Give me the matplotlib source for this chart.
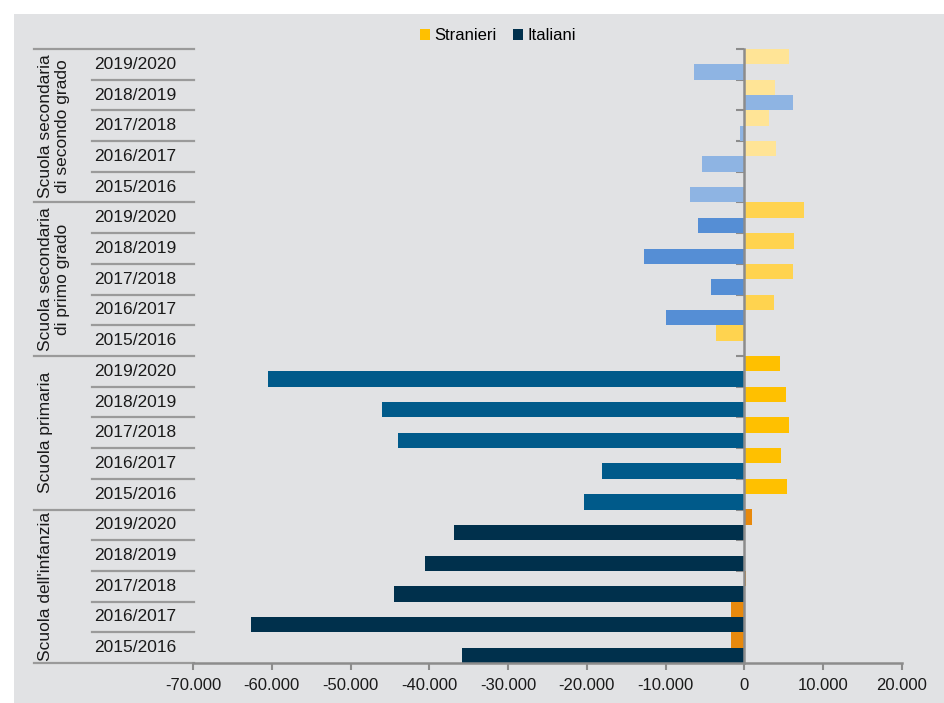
import matplotlib
matplotlib.use("Agg")
import matplotlib.pyplot as plt
from matplotlib.patches import Patch
from matplotlib.lines import Line2D

plt.rcParams['font.family'] = ['Liberation Sans', 'DejaVu Sans']

# ---- data (years ordered bottom-to-top within each group) ----
years = ['2015/2016', '2016/2017', '2017/2018', '2018/2019', '2019/2020']
groups = ["Scuola dell'infanzia", "Scuola primaria",
          "Scuola secondaria\ndi primo grado", "Scuola secondaria\ndi secondo grado"]

stranieri_infanzia = [-1650, -1650, 200, 0, 1000]
italiani_infanzia = [-35800, -62600, -44500, -40600, -36900]
stranieri_primaria = [5400, 4700, 5600, 5300, 4450]
italiani_primaria = [-20400, -18100, -44000, -46000, -60500]
stranieri_primo = [-3550, 3800, 6200, 6350, 7600]
italiani_primo = [0, -10000, -4300, -12800, -5850]
stranieri_secondo = [0, 4050, 3150, 3900, 5600]
italiani_secondo = [-6850, -5450, -600, 6150, -6450]

x_ticks = [-70000, -60000, -50000, -40000, -30000, -20000, -10000, 0, 10000, 20000]

stranieri = [stranieri_infanzia, stranieri_primaria, stranieri_primo, stranieri_secondo]
italiani = [italiani_infanzia, italiani_primaria, italiani_primo, italiani_secondo]
col_s = ['#E8890C', '#FFC000', '#FFD34F', '#FFE496']
col_i = ['#00304C', '#005A8A', '#558ED5', '#8EB4E3']

W, H = 945, 703
fig = plt.figure(figsize=(W / 100, H / 100), dpi=100)
fig.patch.set_facecolor('white')
bg = fig.add_axes([14 / W, 0, 1 - 14 / W, 1 - 14 / H], zorder=-5)
bg.set_facecolor('#E1E2E4')
bg.set_xticks([]); bg.set_yticks([])
for s in bg.spines.values():
    s.set_visible(False)

left_px, right_px, top_px, bot_px = 193, 902, 49, 663
ax = fig.add_axes([left_px / W, 1 - bot_px / H, (right_px - left_px) / W, (bot_px - top_px) / H],
                  zorder=1)
ax.set_facecolor('none')

k = 0
for g in range(4):
    for j in range(5):
        ax.barh(k + 0.25, stranieri[g][j], height=0.5, color=col_s[g], zorder=2)
        ax.barh(k - 0.25, italiani[g][j], height=0.5, color=col_i[g], zorder=2)
        k += 1

n = 20
ax.set_ylim(-0.5, n - 0.5)
ax.set_xlim(-70000, 20000)

axis_col = '#8C8C8C'
for s in ['top', 'right']:
    ax.spines[s].set_visible(False)
ax.spines['left'].set_position(('data', 0))
ax.spines['left'].set_color(axis_col)
ax.spines['left'].set_linewidth(1.8)
ax.spines['bottom'].set_color(axis_col)
ax.spines['bottom'].set_linewidth(1.8)
ax.spines['left'].set_zorder(3)

ax.set_yticks([i - 0.5 for i in range(n + 1)])
ax.set_yticklabels([])
ax.tick_params(axis='y', direction='out', length=6, width=1.5, color=axis_col)

ax.set_xticks(x_ticks)
ax.set_xticklabels([('%d' % v if v == 0 else '{:,}'.format(v).replace(',', '.')) for v in x_ticks],
                   fontsize=12, color='#1a1a1a')
ax.tick_params(axis='x', direction='out', length=5, width=1.5, color=axis_col, pad=6)

# ---- table of category labels ----
tr = ax.get_yaxis_transform()
def ax_x(px):
    return (px - left_px) / (right_px - left_px)

line_col = '#9A9A9A'
for i in range(n + 1):
    y = i - 0.5
    x0 = ax_x(34) if i % 5 == 0 else ax_x(92)
    ax.add_line(Line2D([x0, ax_x(194)], [y, y], transform=tr, color=line_col, lw=1.6,
                       clip_on=False))

k = 0
for g in range(4):
    for j in range(5):
        ax.text(ax_x(94), k, years[j], transform=tr, ha='left', va='center',
                fontsize=12.5, color='#1a1a1a', clip_on=False)
        k += 1
    ax.text(ax_x(38), g * 5 + 2, groups[g], transform=tr, rotation=90, ha='left', va='center',
            multialignment='center', fontsize=12.5, color='#1a1a1a', linespacing=1.2,
            clip_on=False)

handles = [Patch(facecolor='#FFC000', edgecolor='none', label='Stranieri'),
           Patch(facecolor='#00304D', edgecolor='none', label='Italiani')]
fig.legend(handles=handles, loc='center', bbox_to_anchor=(498 / W, 1 - 36 / H), ncol=2,
           frameon=False, fontsize=12, handlelength=0.6, handleheight=0.6,
           handletextpad=0.25, columnspacing=1.0)

fig.savefig('out.png', dpi=100)
